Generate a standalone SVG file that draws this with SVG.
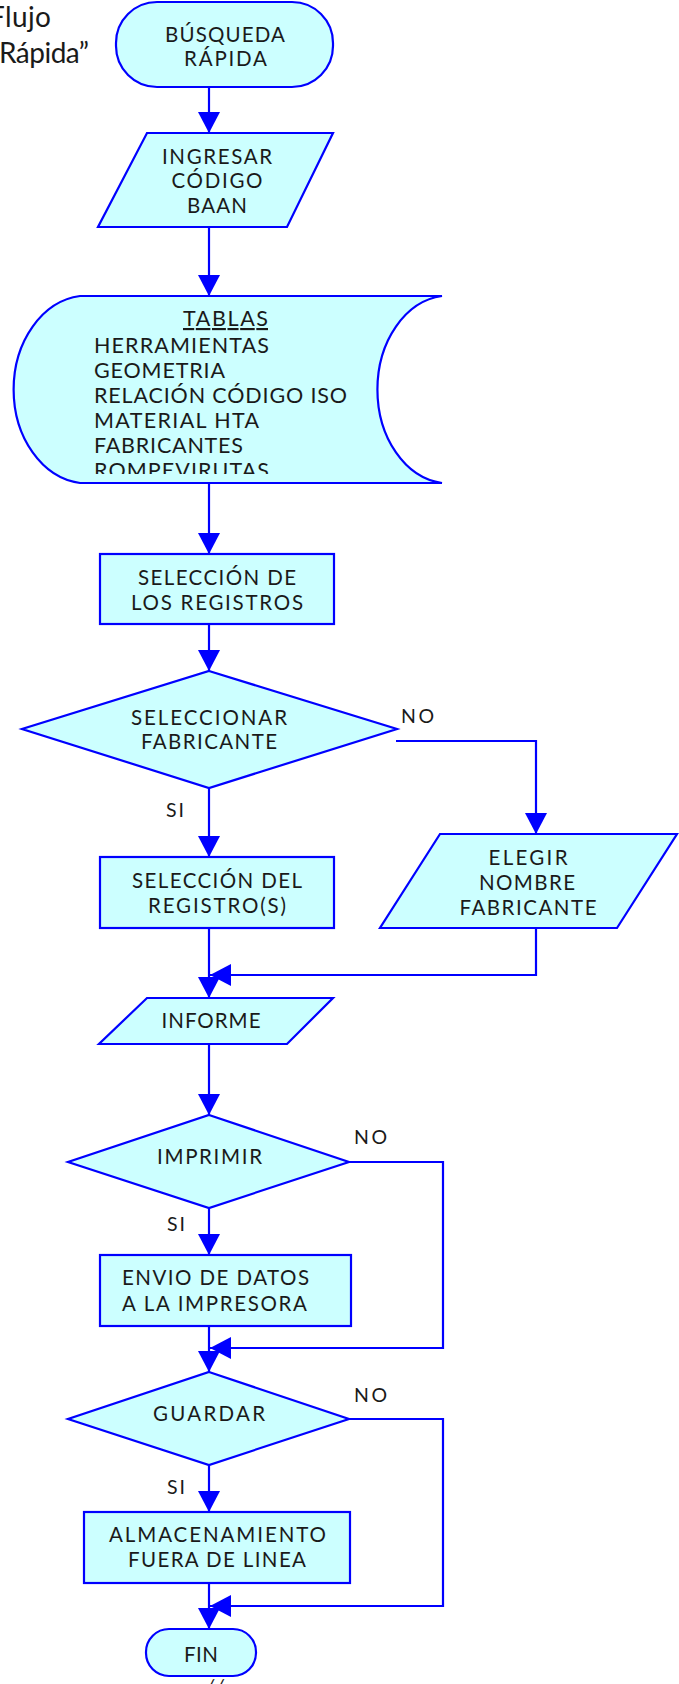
<svg xmlns="http://www.w3.org/2000/svg" width="679" height="1684" viewBox="0 0 679 1684">
  <style>
    .shape { fill: #CCFFFF; stroke: #0000FF; stroke-width: 2.2; }
    .wire { fill: none; stroke: #0000FF; stroke-width: 2.2; }
    text { font-family: Lato, "Open Sans", "DejaVu Sans", sans-serif; fill: #1a1a1a; }
    .t { font-size: 20.5px; text-anchor: middle; }
    .ts { font-size: 20.5px; }
    .tab { font-size: 21.5px; }
    .lbl { font-size: 19.5px; }
    .title { font-size: 28px; }
  </style>
  <defs>
    <marker id="ah" markerUnits="userSpaceOnUse" markerWidth="22" markerHeight="22" refX="21" refY="11" orient="auto">
      <path d="M0,0 L21,11 L0,22 z" fill="#0000FF"/>
    </marker>
    <clipPath id="tablasClip">
      <rect x="0" y="296" width="450" height="178"/>
    </clipPath>
  </defs>

  <!-- heading, partly outside the page -->
  <g id="title">
    <text class="title" x="51" y="27" text-anchor="end" textLength="62">Flujo</text>
    <text class="title" x="-1" y="63" textLength="90">Rápida”</text>
  </g>

  <!-- connectors -->
  <g id="connectors">
    <path class="wire" d="M209,87 V133" marker-end="url(#ah)"/>
    <path class="wire" d="M209,227 V296" marker-end="url(#ah)"/>
    <path class="wire" d="M209,483 V554" marker-end="url(#ah)"/>
    <path class="wire" d="M209,624 V671" marker-end="url(#ah)"/>
    <path class="wire" d="M209,788 V857" marker-end="url(#ah)"/>
    <path class="wire" d="M396,741 H536 V834" marker-end="url(#ah)"/>
    <path class="wire" d="M209,928 V998" marker-end="url(#ah)"/>
    <path class="wire" d="M536,928 V975 H210" marker-end="url(#ah)"/>
    <path class="wire" d="M209,1044 V1115" marker-end="url(#ah)"/>
    <path class="wire" d="M209,1208 V1255" marker-end="url(#ah)"/>
    <path class="wire" d="M349,1162 H443 V1348 H210" marker-end="url(#ah)"/>
    <path class="wire" d="M209,1326 V1372" marker-end="url(#ah)"/>
    <path class="wire" d="M209,1465 V1512" marker-end="url(#ah)"/>
    <path class="wire" d="M349,1419 H443 V1606 H210" marker-end="url(#ah)"/>
    <path class="wire" d="M209,1583 V1629" marker-end="url(#ah)"/>
  </g>

  <!-- branch labels -->
  <g id="labels">
    <text class="lbl" x="401" y="723" textLength="33">NO</text>
    <text class="lbl" x="166" y="817" textLength="18">SI</text>
    <text class="lbl" x="354" y="1144" textLength="33">NO</text>
    <text class="lbl" x="167" y="1231" textLength="18">SI</text>
    <text class="lbl" x="354" y="1402" textLength="33">NO</text>
    <text class="lbl" x="167" y="1494" textLength="18">SI</text>
  </g>

  <g id="busqueda-rapida">
    <rect class="shape" x="116" y="2" width="217" height="85" rx="41" ry="41"/>
    <text class="t" x="225" y="42" textLength="120">BÚSQUEDA</text>
    <text class="t" x="225.5" y="66" textLength="83">RÁPIDA</text>
  </g>

  <g id="ingresar-codigo">
    <polygon class="shape" points="147,133 333,133 287,227 98,227"/>
    <text class="t" x="217" y="164" textLength="110">INGRESAR</text>
    <text class="t" x="217" y="188" textLength="91">CÓDIGO</text>
    <text class="t" x="217" y="213" textLength="60">BAAN</text>
  </g>

  <g id="tablas">
    <path class="shape" d="M80,296 H442 A72,94 0 0 0 442,483 H80 A74,94 0 0 1 80,296 Z"/>
    <g clip-path="url(#tablasClip)">
      <text class="tab" x="225.5" y="326" text-anchor="middle" textLength="85" text-decoration="underline">TABLAS</text>
      <text class="tab" x="94" y="353" textLength="175">HERRAMIENTAS</text>
      <text class="tab" x="94" y="378" textLength="131">GEOMETRIA</text>
      <text class="tab" x="94" y="403" textLength="253">RELACIÓN CÓDIGO ISO</text>
      <text class="tab" x="94" y="428" textLength="165">MATERIAL HTA</text>
      <text class="tab" x="94" y="453" textLength="149">FABRICANTES</text>
      <text class="tab" x="94" y="478" textLength="175">ROMPEVIRUTAS</text>
    </g>
  </g>

  <g id="seleccion-registros">
    <rect class="shape" x="100" y="554" width="234" height="70"/>
    <text class="t" x="217" y="585" textLength="158">SELECCIÓN DE</text>
    <text class="t" x="217" y="610" textLength="172">LOS REGISTROS</text>
  </g>

  <g id="seleccionar-fabricante">
    <polygon class="shape" points="209,671 397,729 209,788 22,729"/>
    <text class="t" x="209" y="725" textLength="156">SELECCIONAR</text>
    <text class="t" x="209" y="749" textLength="136">FABRICANTE</text>
  </g>

  <g id="seleccion-registro-s">
    <rect class="shape" x="100" y="857" width="234" height="71"/>
    <text class="t" x="217" y="888" textLength="170">SELECCIÓN DEL</text>
    <text class="t" x="217" y="913" textLength="138">REGISTRO(S)</text>
  </g>

  <g id="elegir-nombre-fabricante">
    <polygon class="shape" points="440,834 677,834 617,928 380,928"/>
    <text class="t" x="528" y="865" textLength="79">ELEGIR</text>
    <text class="t" x="527" y="890" textLength="96">NOMBRE</text>
    <text class="t" x="528" y="915" textLength="137">FABRICANTE</text>
  </g>

  <g id="informe">
    <polygon class="shape" points="147,998 333,998 287,1044 99,1044"/>
    <text class="t" x="211" y="1028" textLength="99">INFORME</text>
  </g>

  <g id="imprimir">
    <polygon class="shape" points="209,1115 349,1162 209,1208 68,1162"/>
    <text class="t" x="209.5" y="1164" textLength="105">IMPRIMIR</text>
  </g>

  <g id="envio-impresora">
    <rect class="shape" x="100" y="1255" width="251" height="71"/>
    <text class="ts" x="122" y="1285" textLength="187">ENVIO DE DATOS</text>
    <text class="ts" x="122" y="1311" textLength="185">A LA IMPRESORA</text>
  </g>

  <g id="guardar">
    <polygon class="shape" points="209,1372 349,1419 209,1465 68,1419"/>
    <text class="t" x="209" y="1421" textLength="112">GUARDAR</text>
  </g>

  <g id="almacenamiento">
    <rect class="shape" x="84" y="1512" width="266" height="71"/>
    <text class="t" x="217.5" y="1542" textLength="217">ALMACENAMIENTO</text>
    <text class="t" x="217" y="1567" textLength="178">FUERA DE LINEA</text>
  </g>

  <g id="fin">
    <rect class="shape" x="146" y="1629" width="110" height="47" rx="23" ry="23"/>
    <text class="t" x="201" y="1662" textLength="34">FIN</text>
    <text class="lbl" x="206" y="1693" textLength="18" style="font-style:italic">//</text>
  </g>
</svg>
